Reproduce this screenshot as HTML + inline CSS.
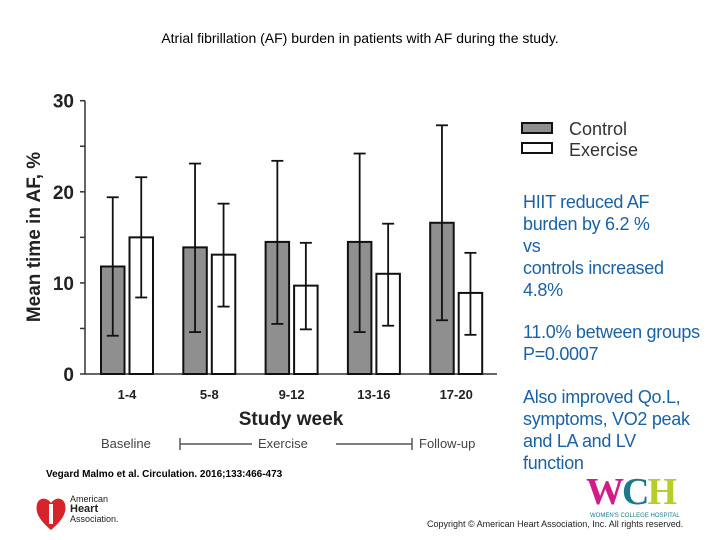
<!DOCTYPE html>
<html><head><meta charset="utf-8"><style>
body{margin:0;width:720px;height:540px;background:#fff;position:relative;overflow:hidden;font-family:"Liberation Sans",Arial,sans-serif}
.t{position:absolute;white-space:nowrap}
.side{position:absolute;left:523px;color:#1a62a6;font-size:18px;line-height:22px;letter-spacing:-0.3px}
</style></head><body>
<div class="t" style="left:0;width:720px;text-align:center;top:30px;font-size:14px;color:#000">Atrial fibrillation (AF) burden in patients with AF during the study.</div>
<svg id="chart" width="720" height="540" style="position:absolute;left:0;top:0" xmlns="http://www.w3.org/2000/svg"></svg>
<div class="side" style="top:191px">HIIT reduced AF<br>burden by 6.2 %<br>vs<br>controls increased<br>4.8%</div>
<div class="side" style="top:321px">11.0% between groups<br>P=0.0007</div>
<div class="side" style="top:386px">Also improved Qo.L,<br>symptoms, VO2 peak<br>and LA and LV<br>function</div>
<div class="t" style="left:46px;top:469px;font-size:10px;font-weight:bold">Vegard Malmo et al. Circulation. 2016;133:466-473</div>
<svg style="position:absolute;left:34px;top:492px" width="34" height="40"><path d="M17 38 C5 28 1 20 3 12 C5 5 13 5 17 11 C21 5 29 5 31 12 C33 20 29 28 17 38Z" fill="#d8232a"/><rect x="15" y="12" width="4" height="20" fill="#fff"/></svg>
<div class="t" style="left:70px;top:494px;font-size:9px;line-height:10px;color:#222">American<br><b style="font-size:11px">Heart</b><br>Association.</div>
<div class="t" style="left:586px;top:470px;font-family:'Liberation Serif',serif;font-size:38px;font-weight:bold;letter-spacing:-2px"><span style="color:#d11d8a">W</span><span style="color:#1a7a8a">C</span><span style="color:#b8cc2a">H</span></div>
<div class="t" style="left:590px;top:513px;font-size:6px;color:#1a7a8a">WOMEN'S COLLEGE HOSPITAL</div>
<div class="t" style="left:427px;top:519px;font-size:9px;color:#222">Copyright © American Heart Association, Inc. All rights reserved.</div>
<script>
const categories=["1-4","5-8","9-12","13-16","17-20"];
const controlMean=[11.8,13.9,14.5,14.5,16.6];
const controlHi=[19.4,23.1,23.4,24.2,27.3];
const controlLo=[4.2,4.6,5.5,4.6,5.9];
const exerciseMean=[15.0,13.1,9.7,11.0,8.9];
const exerciseHi=[21.6,18.7,14.4,16.5,13.3];
const exerciseLo=[8.4,7.4,4.9,5.3,4.3];
const yTicks=[0,10,20,30];
const svg=document.getElementById('chart');const NS='http://www.w3.org/2000/svg';
function y(v){return 374-v*9.11}
function gx(i){return 101+i*82.3}
function add(tag,a,name,txt){const e=document.createElementNS(NS,tag);for(const k in a)e.setAttribute(k,a[k]);


if(txt!==undefined)e.textContent=txt;svg.appendChild(e);return e}
add('line',{x1:85,y1:y(30),x2:85,y2:374,stroke:'#333','stroke-width':1.5},'y-axis');
add('line',{x1:85,y1:374,x2:497,y2:374,stroke:'#333','stroke-width':1.5},'x-axis');
for(let v=0;v<=30;v+=5)add('line',{x1:80,y1:y(v),x2:85,y2:y(v),stroke:'#333','stroke-width':1.5},'y-tick');
yTicks.forEach(v=>add('text',{x:74,y:y(v)+7,'text-anchor':'end','font-size':19,'font-weight':'bold','font-family':'Liberation Sans',fill:'#222'},'y-tick-label',v));
add('text',{x:40,y:237,'text-anchor':'middle','font-size':19,'font-weight':'bold','font-family':'Liberation Sans',fill:'#222',transform:'rotate(-90 40 237)'},'y-axis-title','Mean time in  AF, %');
const bw=23.5;
function bar(x,m,hi,lo,fill,name){add('rect',{x:x,y:y(m),width:bw,height:374-y(m),fill:fill,stroke:'#111','stroke-width':2},name);
const cx=x+bw/2;add('line',{x1:cx,y1:y(hi),x2:cx,y2:y(lo),stroke:'#111','stroke-width':1.8},name+'-error');
[hi,lo].forEach(v=>add('line',{x1:cx-6,y1:y(v),x2:cx+6,y2:y(v),stroke:'#111','stroke-width':1.8},name+'-error-cap'));}
categories.forEach((c,i)=>{bar(gx(i),controlMean[i],controlHi[i],controlLo[i],'#8f8f8f','bar-control-'+c);
bar(gx(i)+28.5,exerciseMean[i],exerciseHi[i],exerciseLo[i],'#fff','bar-exercise-'+c);
add('text',{x:gx(i)+26,y:399,'text-anchor':'middle','font-size':13,'font-weight':'bold','font-family':'Liberation Sans',fill:'#222'},'x-tick-label',c);});
add('text',{x:291,y:425,'text-anchor':'middle','font-size':19,'font-weight':'bold','font-family':'Liberation Sans',fill:'#222'},'x-axis-title','Study week');
add('text',{x:101,y:448,'font-size':13,'font-family':'Liberation Sans',fill:'#444'},'phase-baseline','Baseline');
add('text',{x:258,y:448,'font-size':13,'font-family':'Liberation Sans',fill:'#444'},'phase-exercise','Exercise');
add('text',{x:419,y:448,'font-size':13,'font-family':'Liberation Sans',fill:'#444'},'phase-followup','Follow-up');
add('line',{x1:180,y1:444,x2:252,y2:444,stroke:'#555','stroke-width':1.5},'phase-line');
add('line',{x1:336,y1:444,x2:412,y2:444,stroke:'#555','stroke-width':1.5},'phase-line');
add('line',{x1:180,y1:438,x2:180,y2:450,stroke:'#555','stroke-width':1.5},'phase-bracket');
add('line',{x1:412,y1:438,x2:412,y2:450,stroke:'#555','stroke-width':1.5},'phase-bracket');
add('rect',{x:522,y:123,width:30,height:10,fill:'#8f8f8f',stroke:'#111','stroke-width':2},'legend-control-swatch');
add('rect',{x:522,y:143,width:30,height:10,fill:'#fff',stroke:'#111','stroke-width':2},'legend-exercise-swatch');
add('text',{x:569,y:135,'font-size':18,'font-family':'Liberation Sans',fill:'#333'},'legend-control','Control');
add('text',{x:569,y:156,'font-size':18,'font-family':'Liberation Sans',fill:'#333'},'legend-exercise','Exercise');
</script>
</body></html>
